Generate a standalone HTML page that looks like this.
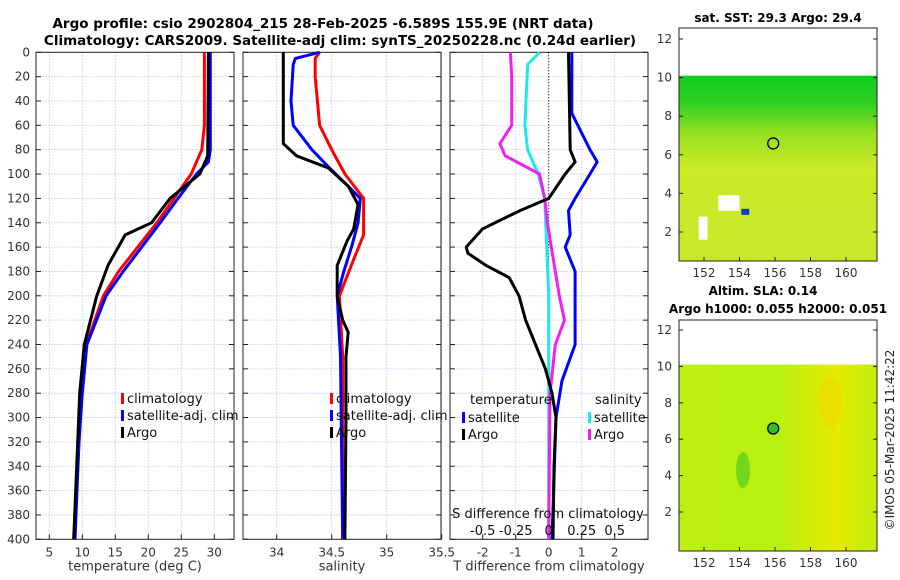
<!DOCTYPE html>
<html><head><meta charset="utf-8"><style>
html,body{margin:0;padding:0;background:#fff;}
svg{display:block;font-family:"DejaVu Sans","Liberation Sans",sans-serif;}
</style></head><body>
<svg id="chart" width="900" height="580" viewBox="0 0 900 580" xmlns="http://www.w3.org/2000/svg">
<defs>
<linearGradient id="sstg" x1="0" y1="0" x2="0" y2="1">
<stop offset="0" stop-color="#10cc20"/><stop offset="0.15" stop-color="#30d020"/><stop offset="0.3" stop-color="#90e020"/><stop offset="0.5" stop-color="#cbea28"/><stop offset="1" stop-color="#c8e828"/></linearGradient>
<linearGradient id="slag" x1="0" y1="0" x2="1" y2="0">
<stop offset="0" stop-color="#bcf010"/><stop offset="0.5" stop-color="#b8f010"/><stop offset="0.8" stop-color="#e6ea00"/><stop offset="1" stop-color="#bcee10"/></linearGradient>
</defs>
<text x="323" y="28" text-anchor="middle" font-size="13.5" font-weight="bold">Argo profile: csio 2902804_215 28-Feb-2025 -6.589S 155.9E (NRT data)</text>
<text x="340" y="45" text-anchor="middle" font-size="13.5" font-weight="bold">Climatology: CARS2009. Satellite-adj clim: synTS_20250228.nc (0.24d earlier)</text>
<g id="panels"></g>
<g id="maps"></g>
<text transform="translate(894,440) rotate(-90)" text-anchor="middle" font-size="12" fill="#222">©IMOS 05-Mar-2025 11:42:22</text>
</svg>
<script>
// ---- data ----
const depthTick=[0,20,40,60,80,100,120,140,160,180,200,220,240,260,280,300,320,340,360,380,400];
const tTicks=[5,10,15,20,25,30];
const sTicks=[34,34.5,35,35.5];
const dTTicks=[-2,-1,0,1,2];
const dSTickVals=[-0.5,-0.25,0,0.25,0.5];
const dSTickLabels=["-0.5","-0.25","0","0.25","0.5"];
const tArgoDepth=[0,85,100,120,140,150,175,200,240,280,320,360,400];
const tArgo=[29.1,29.0,27.8,23.3,20.5,16.5,13.9,12.2,10.3,9.6,9.3,9.0,8.7];
const tClimDepth=[0,60,80,100,120,140,160,180,200,240,280,320,400];
const tClim=[28.5,28.5,28.1,26.5,23.9,21.3,18.4,15.5,13.2,10.6,9.8,9.5,8.7];
const tSatDepth=[0,80,90,100,120,140,160,180,200,240,280,320,400];
const tSat=[29.4,29.4,29.1,27.3,24.5,21.8,19.0,16.2,13.6,10.7,10.0,9.5,8.9];
const sArgoDepth=[0,75,85,95,110,125,145,155,175,200,220,230,250,300,400];
const sArgo=[34.06,34.06,34.18,34.47,34.65,34.74,34.70,34.64,34.55,34.55,34.60,34.65,34.63,34.63,34.62];
const sSatDepth=[0,5,10,40,60,80,95,110,120,140,160,180,200,250,400];
const sSat=[34.39,34.17,34.15,34.13,34.15,34.32,34.48,34.65,34.76,34.74,34.68,34.61,34.55,34.58,34.60];
const sClimDepth=[0,5,20,60,80,100,120,150,170,200,250,400];
const sClim=[34.39,34.35,34.35,34.39,34.50,34.62,34.79,34.79,34.70,34.57,34.60,34.60];
const dTSatDepth=[0,50,80,90,100,120,130,150,160,180,240,270,300,400];
const dTSat=[0.7,0.7,1.25,1.47,1.25,0.8,0.6,0.65,0.5,0.8,0.8,0.4,0.22,0.1];
const dTArgoDepth=[0,80,90,100,120,130,145,160,165,175,185,200,220,240,260,280,300,340,400];
const dTArgo=[0.6,0.65,0.8,0.5,0,-0.87,-2.0,-2.5,-2.45,-1.9,-1.2,-0.9,-0.7,-0.4,-0.1,0.1,0.22,0.16,0.13];
const dSSatDepth=[0,10,60,80,100,120,200,400];
const dSSat=[-0.07,-0.16,-0.18,-0.16,-0.08,-0.03,0,0];
const dSArgoDepth=[0,20,60,75,85,100,120,140,160,180,200,220,240,280,400];
const dSArgo=[-0.29,-0.28,-0.28,-0.37,-0.33,-0.07,-0.03,-0.01,0.02,0.05,0.08,0.12,0.05,0.01,0];
const mapXTicks=[152,154,156,158,160];
const mapYTicks=[2,4,6,8,10,12];

// ---- helpers ----
const NS="http://www.w3.org/2000/svg";
function mk(tag,attrs,parent){const e=document.createElementNS(NS,tag);for(const k in attrs)e.setAttribute(k,attrs[k]);parent.appendChild(e);return e;}
const P=document.getElementById('panels');
const top0=52.3,bot=539.3;
const yD=d=>top0+d*(bot-top0)/400;
function lin(d0,d1,p0,p1){return v=>p0+(v-d0)*(p1-p0)/(d1-d0);}

function panel(name,x0,x1,xs,ticks,labels,xlabel){
  const g=mk('g',{},P);
  
  
  ticks.forEach(t=>{const l=mk('line',{x1:xs(t),x2:xs(t),y1:top0,y2:bot,stroke:'#b8c4e8','stroke-width':0.8,'stroke-dasharray':'1.5,1.5'},g);
    });
  depthTick.forEach(d=>{const l=mk('line',{x1:x0,x2:x1,y1:yD(d),y2:yD(d),stroke:'#b8c4e8','stroke-width':0.8,'stroke-dasharray':'1.5,1.5'},g);
    
    mk('line',{x1:x0,x2:x0+5,y1:yD(d),y2:yD(d),stroke:'#222'},g);
    mk('line',{x1:x1-5,x2:x1,y1:yD(d),y2:yD(d),stroke:'#222'},g);});
  ticks.forEach((t,i)=>{mk('line',{x1:xs(t),x2:xs(t),y1:bot-5,y2:bot,stroke:'#222'},g);
    if(labels){const tx=mk('text',{x:xs(t),y:bot+17,'text-anchor':'middle','font-size':12,fill:'#333'},g);tx.textContent=labels[i];
    }});
  const r=mk('rect',{x:x0,y:top0,width:x1-x0,height:bot-top0,fill:'none',stroke:'#222','stroke-width':1},g);
  
  if(xlabel){const t=mk('text',{x:(x0+x1)/2,y:bot+31,'text-anchor':'middle','font-size':13,fill:'#333'},g);t.textContent=xlabel;
    }
  return g;
}
function line(g,name,depths,vals,xs,color){
  const p=mk('polyline',{points:depths.map((d,i)=>xs(vals[i]).toFixed(1)+','+yD(d).toFixed(1)).join(' '),fill:'none',stroke:color,'stroke-width':3,'stroke-linejoin':'round'},g);
  
  
}
function legend(g,x,y,items){
  items.forEach((it,i)=>{
    const yy=y+i*17;
    mk('rect',{x:x,y:yy-9,width:3,height:11,fill:it[1]},g);
    const t=mk('text',{x:x+6,y:yy+1,'font-size':13,fill:'#111'},g);t.textContent=it[0];
    
  });
}

// depth labels
depthTick.forEach(d=>{const t=mk('text',{x:30,y:yD(d)+4,'text-anchor':'end','font-size':12,fill:'#333'},P);t.textContent=d;
  });

// panel 1 temperature
const xT=lin(5,30,49.3,214.3);
const g1=panel('temperature-panel',36,234,xT,tTicks,tTicks.map(String),'temperature (deg C)');
line(g1,'temperature-climatology-line',tClimDepth,tClim,xT,'#f00');
line(g1,'temperature-satellite-line',tSatDepth,tSat,xT,'#00f');
line(g1,'temperature-argo-line',tArgoDepth,tArgo,xT,'#000');
legend(g1,121,402,[['climatology','#f00'],['satellite-adj. clim','#00f'],['Argo','#000']]);

// panel 2 salinity
const xS=lin(34,35.5,276.7,441.7);
const g2=panel('salinity-panel',243,441,xS,sTicks,sTicks.map(String),'salinity');
line(g2,'salinity-climatology-line',sClimDepth,sClim,xS,'#f00');
line(g2,'salinity-satellite-line',sSatDepth,sSat,xS,'#00f');
line(g2,'salinity-argo-line',sArgoDepth,sArgo,xS,'#000');
legend(g2,330,402,[['climatology','#f00'],['satellite-adj. clim','#00f'],['Argo','#000']]);

// panel 3 differences
const xDT=lin(0,1,548.7,581.7);
const xDS=lin(0,1,548.7,680.7);
const g3=panel('difference-panel',450,648,xDT,dTTicks,dTTicks.map(String),'T difference from climatology');
mk('line',{x1:xDT(0),x2:xDT(0),y1:top0,y2:bot,stroke:'#000','stroke-width':1,'stroke-dasharray':'1,2'},g3);
line(g3,'s-diff-satellite-line',dSSatDepth,dSSat,xDS,'#20e8e8');
line(g3,'s-diff-argo-line',dSArgoDepth,dSArgo,xDS,'#f020f0');
line(g3,'t-diff-satellite-line',dTSatDepth,dTSat,xDT,'#00f');
line(g3,'t-diff-argo-line',dTArgoDepth,dTArgo,xDT,'#000');
{const t=mk('text',{x:470,y:404,'font-size':13,fill:'#111'},g3);t.textContent='temperature';}
{const t=mk('text',{x:595,y:404,'font-size':13,fill:'#111'},g3);t.textContent='salinity';}
legend(g3,462,421,[['satellite','#00f'],['Argo','#000']]);
legend(g3,588,421,[['satellite','#20e8e8'],['Argo','#f020f0']]);
{const t=mk('text',{x:548,y:518,'text-anchor':'middle','font-size':13,fill:'#111'},g3);t.textContent='S difference from climatology';}
dSTickVals.forEach((v,i)=>{const t=mk('text',{x:xDS(v),y:535,'text-anchor':'middle','font-size':13,fill:'#111'},g3);t.textContent=dSTickLabels[i];
  });

// ---- maps ----
const M=document.getElementById('maps');
const mx=lin(152,160,704,846);
function map(name,title,y0,y1,lat12,lat2,fill,circleFill){
  const g=mk('g',{},M);
  
  
  const my=lin(12,2,lat12,lat2);
  mk('rect',{x:679,y:my(10.1),width:198,height:y1-my(10.1),fill:fill},g);
  const r=mk('rect',{x:679,y:y0,width:198,height:y1-y0,fill:'none',stroke:'#222'},g);
  
  mapYTicks.forEach(v=>{mk('line',{x1:679,x2:683,y1:my(v),y2:my(v),stroke:'#222'},g);mk('line',{x1:873,x2:877,y1:my(v),y2:my(v),stroke:'#222'},g);
    const t=mk('text',{x:672,y:my(v)+4,'text-anchor':'end','font-size':12,fill:'#333'},g);t.textContent=v;
    });
  mapXTicks.forEach(v=>{mk('line',{x1:mx(v),x2:mx(v),y1:y1-4,y2:y1,stroke:'#222'},g);
    const t=mk('text',{x:mx(v),y:y1+16,'text-anchor':'middle','font-size':12,fill:'#333'},g);t.textContent=v;
    });
  const c=mk('circle',{cx:mx(155.9),cy:my(6.589),r:5.5,fill:circleFill,stroke:'#000','stroke-width':1.3},g);
  
  return {g,my};
}
const m1=map('sst-map','',28,261,39,232,'url(#sstg)','none');
[[152.8,3.9,1.2,0.8],[151.7,2.8,0.5,1.2]].forEach(p=>mk('rect',{x:mx(p[0]),y:m1.my(p[1]),width:p[2]*17.75,height:p[3]*19.3,fill:'#fff'},m1.g));
mk('rect',{x:mx(154.1),y:m1.my(3.2),width:8,height:6,fill:'#1040c0'},m1.g);
const m2=map('sla-map','',320,551,330,512,'url(#slag)','#30c020');
mk('ellipse',{cx:mx(154.2),cy:m2.my(4.3),rx:7,ry:18,fill:'#60d020',opacity:0.8},m2.g);
mk('ellipse',{cx:mx(159.1),cy:m2.my(8),rx:12,ry:25,fill:'#f0d800',opacity:0.6},m2.g);
{const t=mk('text',{x:778,y:22,'text-anchor':'middle','font-size':12,'font-weight':'bold'},M);t.textContent='sat. SST: 29.3 Argo: 29.4';}
{const t=mk('text',{x:763,y:295,'text-anchor':'middle','font-size':12,'font-weight':'bold'},M);t.textContent='Altim. SLA: 0.14';}
{const t=mk('text',{x:778,y:313,'text-anchor':'middle','font-size':12,'font-weight':'bold'},M);t.textContent='Argo h1000: 0.055 h2000: 0.051';}
</script>
</body></html>
